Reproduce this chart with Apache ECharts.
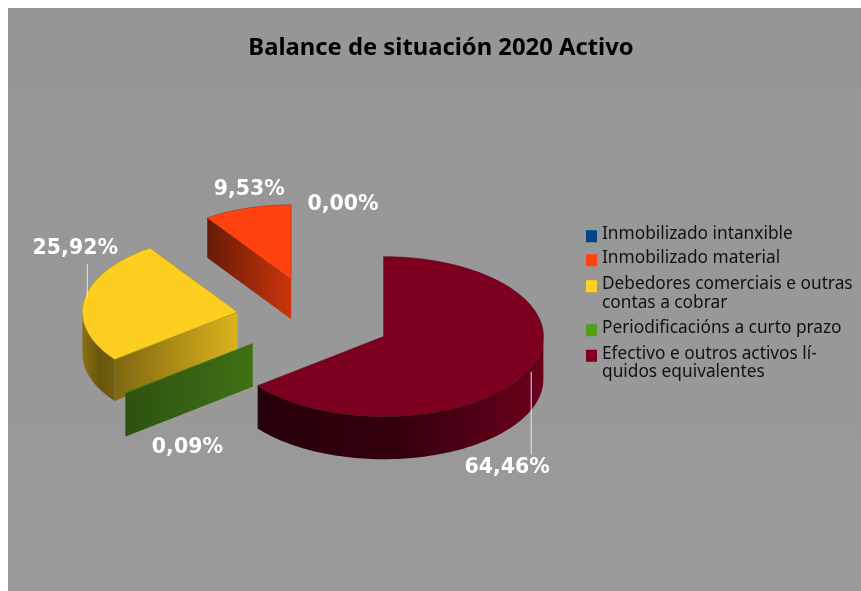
<!DOCTYPE html>
<html><head><meta charset="utf-8">
<style>html,body{margin:0;padding:0;background:#fff}#c{width:861px;height:591px}</style>
<script src="https://cdn.jsdelivr.net/npm/echarts@6/dist/echarts.min.js"></script>
</head><body><div id="c"></div>
<script>
// ---- data (in legend order) ----
const categories = ['Inmobilizado intanxible','Inmobilizado material','Debedores comerciais e outras\ncontas a cobrar','Periodificacións a curto prazo','Efectivo e outros activos lí-\nquidos equivalentes'];
const values = [0, 9.53, 25.92, 0.09, 64.46];
const chartTitle = 'Balance de situación 2020 Activo';

// ---- styling ----
const colors = ['#004586','#ff420e','#fbce20','#579d1c','#7e0021'];
const legendColors = ['#004586','#ff420e','#ffd320','#579d1c','#7e0021'];
const frontShades = [[0.4,0.9],[0.4,0.8],[0.5,0.87],[0.52,0.72],[0.3,0.8]];
const outerShades = [[0.5,0.5,0.5],[0.5,0.5,0.5],[0.55,0.42,0.45],[0.6,0.6,0.6],[0.3,0.42,0.85]];
const labelOffsets = [[29,2],[2,-18],[-9,-51],[62,55],[-20,96]];
const leaderOffsets = [null,null,[3,-2,3,-36],null,[4,0,4,83]];
const legendTops = [225,249,275,319,344.5];
const font = '"Noto Sans", sans-serif';
const labelFont = 'bold 20.5px "DejaVu Sans", sans-serif';

// ---- projected exploded pie geometry ----
const pie = {cx:314, cy:318.5, r:155, tilt:0.5, explode:0.5, explodeTilt:0.53, persp:0.19, depth:0.268};
const rad = d => d*Math.PI/180;
function shade(hex,k){
  const n=parseInt(hex.slice(1),16);
  const c=[n>>16&255,n>>8&255,n&255].map(v=>Math.round(v*k));
  return 'rgb('+c.join(',')+')';
}
// slices run counter-clockwise from 12 o'clock in data order
const slices=[]; let cum=0;
values.forEach((v,i)=>{
  const a2=360-cum*3.6, a1=360-(cum+v)*3.6; cum+=v;
  const m=(a1+a2)/2;
  const ax=pie.cx+Math.sin(rad(m))*pie.r*pie.explode;
  const ay=pie.cy-Math.cos(rad(m))*pie.r*pie.explode*pie.explodeTilt;
  const rx=pie.r+(ay-(pie.cy-7))*pie.persp;
  slices.push({a1,a2,m,ax,ay,rx,ry:rx*pie.tilt,d:rx*pie.depth});
});
function rim(s,a,down){return [s.ax+Math.sin(rad(a))*s.rx, s.ay-Math.cos(rad(a))*s.ry+(down?s.d:0)];}
function arc(s,from,to,down){
  const n=Math.max(2,Math.ceil(Math.abs(to-from)/1.5)),p=[];
  for(let k=0;k<=n;k++)p.push(rim(s,from+(to-from)*k/n,down));
  return p;
}
function hgrad(hex,stops){
  return {type:'linear',x:0,y:0,x2:1,y2:0,colorStops:stops.map((k,j)=>({offset:j/(stops.length-1),color:shade(hex,k)}))};
}
function renderSlice(i){
  return function(params,api){
    const v=api.value(0), s=slices[i], hex=colors[i], ch=[];
    if(v>0){
      // radial wall that faces the viewer
      if(Math.sin(rad(s.a1))<0){
        const r0=rim(s,s.a1,false), r1=rim(s,s.a1,true);
        ch.push({type:'polygon',shape:{points:[r0,[s.ax,s.ay],[s.ax,s.ay+s.d],r1]},
          style:{fill:hgrad(hex,frontShades[i])}});
      }
      // curved outer wall where it faces the viewer
      const f=Math.max(s.a1,90), t=Math.min(s.a2,270);
      if(t>f){
        ch.push({type:'polygon',shape:{points:arc(s,f,t,false).concat(arc(s,t,f,true))},
          style:{fill:hgrad(hex,outerShades[i])}});
      }
      // top face
      ch.push({type:'polygon',shape:{points:[[s.ax,s.ay]].concat(arc(s,s.a1,s.a2,false))},
        style:{fill:hex,stroke:shade(hex,0.65),lineWidth:0.5}});
    }
    // data label, placed from the rim midpoint
    const rm=rim(s,s.m,false), o=labelOffsets[i], l=leaderOffsets[i];
    if(l) ch.push({type:'line',shape:{x1:rm[0]+l[0],y1:rm[1]+l[1],x2:rm[0]+l[2],y2:rm[1]+l[3]},
      style:{stroke:'#e6e6e6',lineWidth:1}});
    ch.push({type:'text',style:{text:v.toFixed(2).replace('.',',')+'%',x:rm[0]+o[0],y:rm[1]+o[1],
      fill:'#ffffff',font:labelFont,align:'center',verticalAlign:'middle'}});
    return {type:'group',children:ch};
  };
}
const bgRect={type:'rect',left:8,top:8,z:-10,silent:true,shape:{width:853,height:583},
  style:{fill:{type:'linear',x:0,y:0,x2:0,y2:1,colorStops:[{offset:0,color:'#969696'},{offset:1,color:'#9a9a9a'}]}}};

const chart=echarts.init(document.getElementById('c'),null,{renderer:'canvas'});
chart.setOption({
  animation:false,
  backgroundColor:'#ffffff',
  graphic:[bgRect],
  title:{text:chartTitle,left:436,top:31,textAlign:'center',
    textStyle:{fontFamily:font,fontWeight:'bold',fontSize:23.8,color:'#000'}},
  legend:categories.map((c,i)=>{
    const two=c.indexOf('\n')>=0;
    const h=two?26.5:16, y0=two?0:4;
    return {
      data:[{name:c,icon:'path://M0 '+y0+'H11V'+(y0+12)+'H0Z M0 '+h+'L11 '+h+' M0 0L11 0'}],
      orient:'vertical',left:586,top:legendTops[i],padding:0,
      itemWidth:11,itemHeight:h,itemGap:0,selectedMode:false,
      textStyle:{fontFamily:font,fontSize:17.3,color:'#111',lineHeight:18.5}
    };
  }),
  series:categories.map((c,i)=>({
    type:'custom',name:c,coordinateSystem:'none',silent:true,
    z:Math.round(slices[i].ay),
    itemStyle:{color:legendColors[i]},
    renderItem:renderSlice(i),
    data:[values[i]]
  }))
});
</script></body></html>
